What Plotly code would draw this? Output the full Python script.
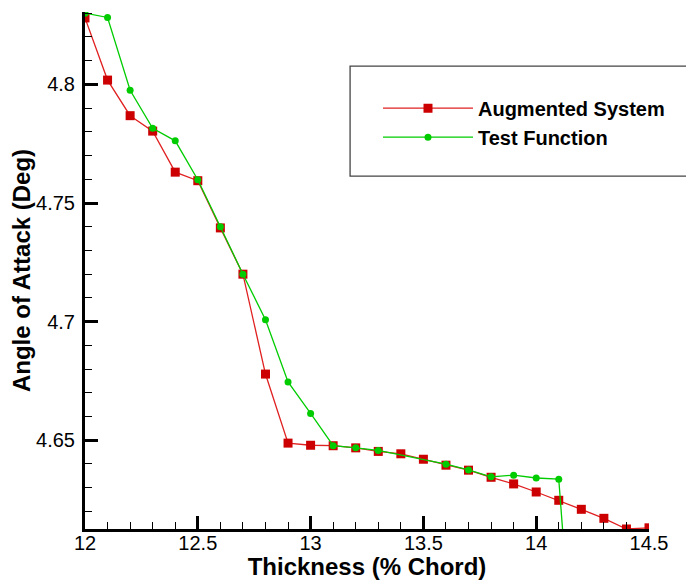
import plotly.graph_objects as go

x_aug = [12.0, 12.1, 12.2, 12.3, 12.4, 12.5, 12.6, 12.7, 12.8, 12.9, 13.0, 13.1, 13.2,
         13.3, 13.4, 13.5, 13.6, 13.7, 13.8, 13.9, 14.0, 14.1, 14.2, 14.3, 14.4, 14.5]
y_aug = [4.828, 4.8018, 4.7868, 4.7803, 4.763, 4.7594, 4.7395, 4.720, 4.6779, 4.6488,
         4.6479, 4.6477, 4.6468, 4.6453, 4.6443, 4.6420, 4.6395, 4.6374, 4.6344, 4.6316,
         4.6282, 4.6247, 4.6209, 4.6171, 4.6126, 4.6131]

x_test = [12.0, 12.1, 12.2, 12.3, 12.4, 12.5, 12.6, 12.7, 12.8, 12.9, 13.0, 13.1, 13.2,
          13.3, 13.6, 13.7, 13.8, 13.9, 14.0, 14.1, 14.13]
y_test = [4.830, 4.8282, 4.7975, 4.7815, 4.7762, 4.7598, 4.740, 4.720, 4.7008, 4.6746,
          4.6613, 4.6477, 4.6468, 4.6457, 4.6399, 4.6375, 4.6346, 4.6353, 4.6341, 4.6336,
          4.596]

x_title = "Thickness (% Chord)"
y_title = "Angle of Attack (Deg)"

FONT = "Liberation Sans, Arial, sans-serif"

fig = go.Figure()
fig.add_trace(go.Scatter(
    x=x_aug, y=y_aug, mode="lines+markers", name="Augmented System",
    line=dict(color="#e02020", width=1.3),
    marker=dict(symbol="square", size=9, color="#cc0000"),
))
fig.add_trace(go.Scatter(
    x=x_test, y=y_test, mode="lines+markers", name="Test Function",
    line=dict(color="#00cc00", width=1.3),
    marker=dict(symbol="circle", size=7, color="#00cc00"),
))

# legend box border
fig.add_shape(type="rect", xref="paper", yref="paper",
              x0=0.47, x1=1.1, y0=0.6826, y1=0.8955,
              line=dict(color="#444444", width=1.3), fillcolor="white", layer="below")

# the page body adds an 8px offset; width/height/margins compensate for it
fig.update_layout(
    width=686, height=572,
    margin=dict(l=77, r=45, t=4, b=51),
    paper_bgcolor="white", plot_bgcolor="white",
    font=dict(family=FONT, color="black", size=20),
    showlegend=True,
    legend=dict(x=0.5195, y=0.786, xanchor="left", yanchor="middle",
                bgcolor="rgba(0,0,0,0)", borderwidth=0,
                font=dict(family=FONT, size=20, color="black", weight="bold"),
                itemwidth=90, tracegroupgap=0),
    xaxis=dict(
        range=[12, 14.5], dtick=0.5, tick0=12, automargin=False,
        showgrid=False, zeroline=False,
        showline=True, linecolor="black", linewidth=3,
        ticks="inside", ticklen=13, tickwidth=2.5, tickcolor="black",
        minor=dict(dtick=0.1, ticks="inside", ticklen=7, tickwidth=1.3, tickcolor="black"),
        tickfont=dict(size=20, family=FONT), ticklabelstandoff=-6,
        title=dict(text=x_title, font=dict(size=24, family=FONT, weight="bold"), standoff=0),
    ),
    yaxis=dict(
        range=[4.6126, 4.8305], dtick=0.05, tick0=4.65, automargin=False,
        showgrid=False, zeroline=False,
        showline=True, linecolor="black", linewidth=3,
        ticks="inside", ticklen=13, tickwidth=2.5, tickcolor="black",
        minor=dict(dtick=0.01, ticks="inside", ticklen=7, tickwidth=1.3, tickcolor="black"),
        tickfont=dict(size=20, family=FONT), ticklabelstandoff=3,
        title=dict(text=y_title, font=dict(size=24, family=FONT, weight="bold"), standoff=0),
    ),
)

fig.write_html("out.html")
